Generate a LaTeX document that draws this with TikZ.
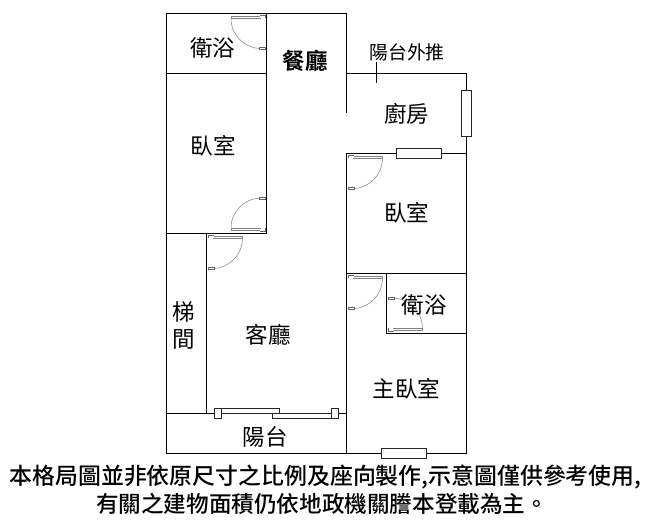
\documentclass[tikz,border=0pt]{standalone}
\usepackage{fontspec}
\setmainfont{Noto Sans CJK TC}
\newfontfamily\cjkb{Noto Sans CJK TC Bold}
\newfontfamily\cjkm{Noto Sans CJK TC Medium}
\tikzset{
  wall/.style={draw=black,line width=1.15pt},
  winbox/.style={draw=black!85,line width=1pt,fill=white},
  doorgray/.style={draw=black!50,line width=0.5pt},
  doordark/.style={draw=black!60,line width=0.7pt},
  room/.style={inner sep=0pt,font=\fontsize{22.5}{24}\selectfont,text=black},
  note/.style={inner sep=0pt,font=\fontsize{22.6}{24}\cjkm,text=black},
}
\newcommand{\doorsym}[1]{%
  \begin{scope}[#1]
    \draw[doordark] (1.7,5) -- (1.7,2.4) -- (7,2.4);
    \draw[doorgray] (7,3) -- (35.7,3) -- (35.7,5.4) -- (6,5.4);
    \draw[doorgray] (35.7,5.4) .. controls (35.7,22) and (22,34.5) .. (7.3,35.2);
    \draw[doordark,fill=white] (1.7,34) rectangle (7.3,36.4);
  \end{scope}}
\begin{document}
\begin{tikzpicture}[x=1pt,y=-1pt]
\useasboundingbox[fill=white] (0,0) rectangle (653,528);
% doors first
\doorsym{shift={(346.7,153.3)}}
\doorsym{shift={(206.7,233.3)}}
\doorsym{shift={(346.7,273.3)}}
\doorsym{shift={(266.7,13.3)},xscale=-1}
\doorsym{shift={(266.7,233.3)},xscale=-1,yscale=-1}
\doorsym{shift={(386.7,333.3)},yscale=-1}
% walls
\draw[wall,line cap=rect] (266.7,13.3) -- (166.7,13.3) -- (166.7,453.3) -- (466.7,453.3) -- (466.7,73.3) -- (346.7,73.3);
\draw[wall] (346.7,113.3) -- (346.7,13.3) -- (266.7,13.3) -- (266.7,233.3);
\draw[wall] (166.7,73.3) -- (266.7,73.3);
\draw[wall] (166.7,233.3) -- (266.7,233.3);
\draw[wall] (206.7,233.3) -- (206.7,413.3);
\draw[wall] (166.7,413.3) -- (346.7,413.3);
\draw[wall] (466.7,153.3) -- (346.7,153.3) -- (346.7,453.3);
\draw[wall] (346.7,273.3) -- (466.7,273.3);
\draw[wall] (386.7,273.3) -- (386.7,333.3) -- (466.7,333.3);
\draw[draw=black,line width=0.9pt] (376.7,62) -- (376.7,83);
% windows
\draw[winbox] (461.7,90.7) rectangle (471.7,136);
\draw[winbox] (396.7,148.3) rectangle (441.7,158.3);
\draw[winbox] (381.7,448.3) rectangle (426.7,458.3);
% sliding door
\draw[winbox] (214.3,408.3) rectangle (279.3,413.3);
\draw[winbox] (272.7,413.3) rectangle (338.3,418.3);
\draw[winbox] (214.3,408.3) rectangle (221.7,418.3);
\draw[winbox] (331.7,408.3) rectangle (338.3,418.3);
% labels
\node[room] (bathA) at (212.5,47.5) {衛浴};
\node[room,font=\fontsize{22.5}{24}\cjkb] (dining) at (305,60.5) {餐廳};
\node[room,font=\fontsize{18.8}{20}\selectfont] (balout) at (407,52) {陽台外推};
\node[room] (kitchen) at (406.5,113.5) {廚房};
\node[room] (bedA) at (213,146) {臥室};
\node[room] (bedB) at (406.5,212.5) {臥室};
\node[room] (bathB) at (424,304.5) {衛浴};
\node[room] (stairA) at (184,312) {梯};
\node[room] (stairB) at (184,339) {間};
\node[room] (living) at (268,335) {客廳};
\node[room] (master) at (406.5,388.5) {主臥室};
\node[room] (balcony) at (265,436.5) {陽台};
\node[note,font=\fontsize{22.9}{24}\cjkm] (noteA) at (325.5,477) {本格局圖並非依原尺寸之比例及座向製作,示意圖僅供參考使用,};
\node[note] (noteB) at (322,504) {有關之建物面積仍依地政機關謄本登載為主。};
\end{tikzpicture}
\end{document}
